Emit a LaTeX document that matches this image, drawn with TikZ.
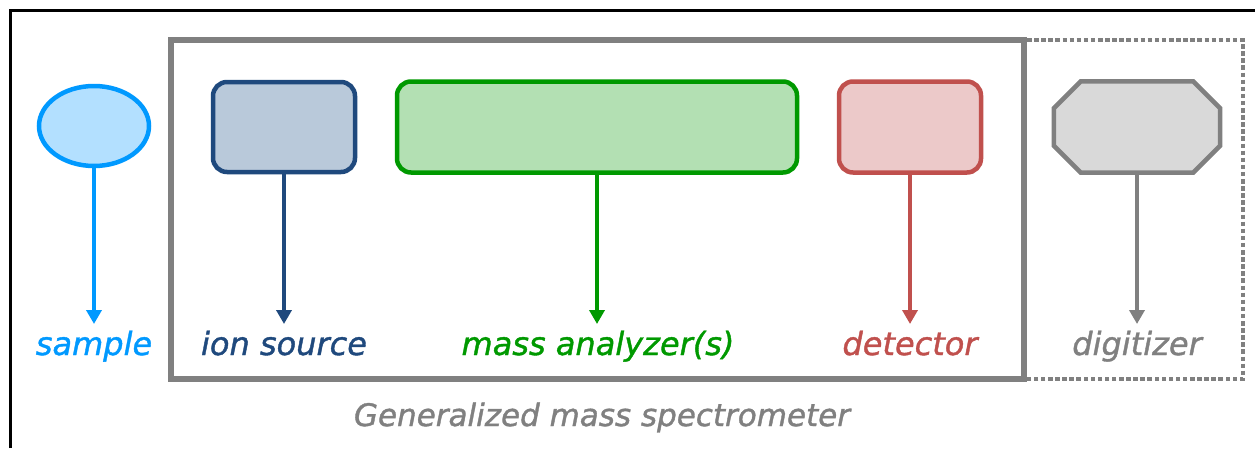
\documentclass[tikz,border=0pt]{standalone}
\usepackage{fontspec}
\setmainfont{DejaVu Sans}[ItalicFeatures={FakeBold=1.2}]
\usetikzlibrary{arrows.meta,shapes.geometric}

\definecolor{smpline}{RGB}{0,153,255}
\definecolor{smpfill}{RGB}{179,224,255}
\definecolor{ionline}{RGB}{31,73,125}
\definecolor{ionfill}{RGB}{185,201,218}
\definecolor{maline}{RGB}{0,153,0}
\definecolor{mafill}{RGB}{179,224,179}
\definecolor{detline}{RGB}{192,80,77}
\definecolor{detfill}{RGB}{236,201,201}
\definecolor{digline}{RGB}{128,128,128}
\definecolor{digfill}{RGB}{217,217,217}

\tikzset{
  part/.style={line width=4.5pt, inner sep=0pt},
  partbox/.style={part, rectangle, rounded corners=14pt},
  feed/.style={line width=3.5pt, -{Triangle[width=15pt,length=14pt]}},
  label/.style={anchor=base, inner sep=0pt, font=\fontsize{32}{38}\selectfont\itshape},
}

\begin{document}
\begin{tikzpicture}[x=1pt,y=-1pt]
  \useasboundingbox (0,0) rectangle (1255,448);
  \fill[white] (0,0) rectangle (1255,448);

  % outer frame (open to the right and below)
  \draw[line width=3.5pt] (10.5,448) -- (10.5,10.5) -- (1255,10.5);

  % spectrometer enclosure and digitizer enclosure
  \draw[line width=6pt, digline] (170.5,40) rectangle (1023.5,378.5);
  \draw[line width=4pt, digline, dash pattern=on 4.5pt off 2.6pt]
    (1027,40) -- (1243,40) -- (1243,379) -- (1027,379);

  % components
  \node[part, ellipse, draw=smpline, fill=smpfill,
        minimum width=110pt, minimum height=80pt] (smp) at (94,126) {};
  \node[partbox, draw=ionline, fill=ionfill,
        minimum width=142pt, minimum height=90pt] (ion) at (284,127) {};
  \node[partbox, draw=maline, fill=mafill,
        minimum width=400pt, minimum height=91pt] (ma) at (597,127) {};
  \node[partbox, draw=detline, fill=detfill,
        minimum width=142pt, minimum height=91pt] (det) at (910,127) {};

  % digitizer: octagon drawn on the corners of its bounding node
  \node[inner sep=0pt, minimum width=166pt, minimum height=91pt] (dig) at (1137,127) {};
  \draw[part, draw=digline, fill=digfill]
    ([xshift=27pt]dig.north west) -- ([xshift=-27pt]dig.north east)
    -- ([yshift=-27pt]dig.north east) -- ([yshift=27pt]dig.south east)
    -- ([xshift=-27pt]dig.south east) -- ([xshift=27pt]dig.south west)
    -- ([yshift=27pt]dig.south west) -- ([yshift=-27pt]dig.north west) -- cycle;

  % arrow ends
  \coordinate (smpE) at (94,324);
  \coordinate (ionE) at (284,324);
  \coordinate (maE) at (597,324);
  \coordinate (detE) at (910,324);
  \coordinate (digE) at (1137,324);

  \draw[feed, smpline] (smp.south) -- (smpE);
  \draw[feed, ionline] (ion.south) -- (ionE);
  \draw[feed, maline] (ma.south) -- (maE);
  \draw[feed, detline] (det.south) -- (detE);
  \draw[feed, digline] (dig.south) -- (digE);

  % labels
  \node[label, smpline] (smpL) at (94,355) {sample};
  \node[label, ionline] (ionL) at (284,355) {ion source};
  \node[label, maline] (maL) at (598,355) {mass analyzer(s)};
  \node[label, detline] (detL) at (910,355) {detector};
  \node[label, digline] (digL) at (1137,355) {digitizer};

  \node[label, digline, font=\fontsize{31}{37}\selectfont\itshape] (title) at (602,426) {Generalized mass spectrometer};
\end{tikzpicture}
\end{document}
